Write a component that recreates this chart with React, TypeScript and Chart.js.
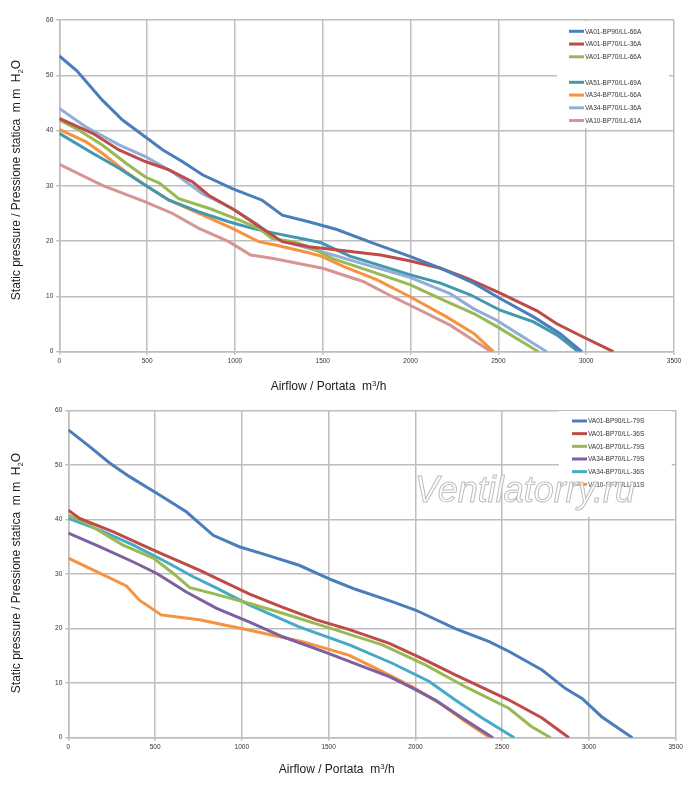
import { useEffect, useRef } from "react";
import { Chart, registerables } from "chart.js";
Chart.register(...registerables);

type P = [number, number];

// ---------- Top chart data (airflow m3/h, static pressure mm H2O) ----------
const topLabels = [
  "VA01-BP90/LL-66A",
  "VA01-BP70/LL-36A",
  "VA01-BP70/LL-66A",
  "VA51-BP70/LL-69A",
  "VA34-BP70/LL-66A",
  "VA34-BP70/LL-36A",
  "VA10-BP70/LL-61A",
];
const topColors = ["#4A7EBB", "#BE4B48", "#98B954", "#4198AF", "#F69240", "#92AED6", "#D69492"];

const topBP90_66A: P[] = [[0,53.5],[100,50.8],[245,45.5],[360,41.9],[500,38.6],[590,36.5],[700,34.4],[815,32.0],[985,29.5],[1155,27.4],[1270,24.7],[1420,23.5],[1580,22.1],[1790,19.6],[2000,17.2],[2170,15.1],[2360,12.4],[2500,9.8],[2700,6.3],[2850,3.3],[2975,0]];
const topBP70_36A: P[] = [[0,42.2],[190,39.5],[340,36.5],[490,34.4],[625,32.9],[760,30.7],[850,28.3],[1000,25.6],[1140,22.6],[1270,19.9],[1420,19.0],[1560,18.5],[1830,17.5],[2000,16.4],[2170,15.1],[2320,13.3],[2510,10.6],[2720,7.4],[2830,5.1],[2980,2.7],[3155,0]];
const topBP70_66A: P[] = [[0,41.9],[110,40.1],[245,37.4],[380,34.1],[490,31.6],[570,30.5],[680,27.7],[855,25.9],[1025,23.8],[1135,22.3],[1210,20.5],[1330,19.9],[1420,19.0],[1560,16.8],[1750,14.8],[2000,12.1],[2190,9.3],[2360,6.9],[2500,4.4],[2728,0]];
const topVA51_69A: P[] = [[0,39.5],[190,35.9],[340,33.2],[490,30.1],[625,27.4],[795,25.3],[965,23.5],[1100,22.3],[1230,21.4],[1420,20.2],[1490,19.7],[1655,17.3],[2000,13.9],[2170,12.4],[2340,10.3],[2510,7.5],[2700,5.4],[2835,3.0],[2955,0]];
const topVA34_66A: P[] = [[0,40.2],[150,38.0],[245,35.9],[380,32.5],[490,30.1],[625,27.4],[795,25.0],[985,22.3],[1135,19.9],[1230,19.3],[1420,17.9],[1490,17.3],[1620,15.4],[1810,13.0],[2000,9.9],[2205,6.3],[2360,3.3],[2472,0]];
const topVA34_36A: P[] = [[0,44.0],[150,40.7],[340,37.4],[490,35.3],[645,32.5],[815,28.6],[985,25.9],[1120,23.2],[1250,20.2],[1420,18.7],[1560,17.5],[1750,15.7],[2000,13.4],[2225,10.5],[2358,7.8],[2490,5.7],[2624,3.0],[2775,0]];
const topVA10_61A: P[] = [[0,33.9],[245,30.1],[490,27.1],[645,25.0],[795,22.3],[965,19.9],[1090,17.5],[1210,16.9],[1420,15.6],[1500,15.1],[1730,12.7],[1900,9.9],[2055,7.5],[2225,4.8],[2460,0]];
const topSeries: P[][] = [topBP90_66A, topBP70_36A, topBP70_66A, topVA51_69A, topVA34_66A, topVA34_36A, topVA10_61A];

// ---------- Bottom chart data ----------
const botLabels = [
  "VA01-BP90/LL-79S",
  "VA01-BP70/LL-36S",
  "VA01-BP70/LL-79S",
  "VA34-BP70/LL-79S",
  "VA34-BP70/LL-36S",
  "VA10-BP70/LL-61S",
];
const botColors = ["#4A7EBB", "#BE4B48", "#98B954", "#7D60A0", "#46AAC5", "#F69240"];

const botBP90_79S: P[] = [[0,56.4],[125,53.3],[240,50.3],[355,47.8],[510,44.8],[680,41.4],[835,37.1],[985,35.0],[1140,33.5],[1330,31.6],[1520,28.9],[1655,27.2],[1870,24.9],[2000,23.4],[2230,20.0],[2425,17.6],[2540,15.8],[2730,12.4],[2865,9.0],[2960,7.2],[3075,3.8],[3250,0]];
const botBP70_36S: P[] = [[0,41.7],[65,40.2],[260,37.7],[510,34.1],[755,30.7],[1045,26.3],[1236,23.9],[1430,21.6],[1620,19.8],[1850,17.3],[2040,14.5],[2230,11.5],[2540,6.9],[2730,3.6],[2885,0]];
const botBP70_79S: P[] = [[0,40.8],[105,39.3],[315,35.3],[490,32.9],[605,30.1],[700,27.5],[835,26.4],[1045,24.6],[1235,22.8],[1485,20.3],[1810,17.0],[2060,13.3],[2290,9.3],[2538,5.4],[2670,2.0],[2780,0]];
const botVA34_79S: P[] = [[0,37.5],[180,35.0],[375,32.2],[510,30.1],[680,26.7],[855,23.7],[1045,21.2],[1236,18.5],[1495,15.5],[1675,13.3],[1850,11.2],[1990,9.0],[2115,6.9],[2270,3.6],[2447,0]];
const botVA34_36S: P[] = [[0,40.2],[185,38.0],[375,35.3],[565,32.2],[720,29.5],[855,27.4],[1045,24.3],[1330,20.3],[1620,17.0],[1870,13.6],[2080,10.3],[2230,6.9],[2385,3.6],[2570,0]];
const botVA10_61S: P[] = [[0,32.9],[145,30.7],[335,27.8],[410,25.2],[535,22.5],[755,21.6],[1045,19.7],[1350,17.6],[1620,15.1],[1810,12.1],[1985,9.3],[2155,6.0],[2290,2.9],[2430,0]];
const botSeries: P[][] = [botBP90_79S, botBP70_36S, botBP70_79S, botVA34_79S, botVA34_36S, botVA10_61S];

// ---------- Axis ----------
const xMin = 0, xMax = 3500, xStep = 500;
const yMin = 0, yMax = 60, yStep = 10;
const yTitleParts: [string, string][] = [["Static pressure / Pressione statica  m m  H", "n"], ["2", "sub"], ["O", "n"]];
const xTitleParts: [string, string][] = [["Airflow / Portata  m", "n"], ["3", "sup"], ["/h", "n"]];
const watermarkText = "Ventilatorry.ru";

const FONT = '"Liberation Sans", Arial, sans-serif';

function drawRich(ctx: CanvasRenderingContext2D, parts: [string, string][], cx: number, cy: number, size: number) {
  const small = size * 0.65;
  let total = 0;
  for (const [t, k] of parts) {
    ctx.font = `${k === "n" ? size : small}px ${FONT}`;
    total += ctx.measureText(t).width;
  }
  let x = cx - total / 2;
  ctx.textAlign = "left";
  ctx.textBaseline = "middle";
  for (const [t, k] of parts) {
    ctx.font = `${k === "n" ? size : small}px ${FONT}`;
    const dy = k === "sub" ? size * 0.3 : k === "sup" ? -size * 0.3 : 0;
    ctx.fillText(t, x, cy + dy);
    x += ctx.measureText(t).width;
  }
}

const overlayPlugin = {
  id: "overlay",
  afterDraw(chart: any, _args: any, opts: any) {
    const ctx: CanvasRenderingContext2D = chart.ctx;
    ctx.save();
    const lg = opts.legend;
    ctx.fillStyle = "#ffffff";
    ctx.fillRect(lg.left, lg.top, lg.right - lg.left, lg.bottom - lg.top);
    chart.data.datasets.forEach((ds: any, i: number) => {
      const slot = i + (lg.gapAfter != null && i >= lg.gapAfter ? 1 : 0);
      const y = lg.firstRow + slot * lg.rowStep;
      ctx.strokeStyle = ds.borderColor;
      ctx.lineWidth = 3;
      ctx.beginPath();
      ctx.moveTo(lg.lineX, y);
      ctx.lineTo(lg.lineX + lg.lineLen, y);
      ctx.stroke();
      ctx.fillStyle = "#333333";
      ctx.textAlign = "left";
      ctx.textBaseline = "middle";
      ctx.font = `${lg.fontSize}px ${FONT}`;
      ctx.fillText(ds.label, lg.lineX + lg.lineLen + 1, y + 0.5);
    });

    ctx.fillStyle = "#1a1a1a";
    ctx.save();
    ctx.translate(opts.yTitle.x, opts.yTitle.y);
    ctx.rotate(-Math.PI / 2);
    drawRich(ctx, yTitleParts, 0, 0, opts.titleSize);
    ctx.restore();
    drawRich(ctx, xTitleParts, opts.xTitle.x, opts.xTitle.y, opts.titleSize);

    if (opts.watermark) {
      const w = opts.watermark;
      ctx.font = `italic ${w.size}px ${FONT}`;
      ctx.textAlign = "center";
      ctx.textBaseline = "alphabetic";
      ctx.fillStyle = "rgba(255,255,255,0.75)";
      ctx.fillText(watermarkText, w.x, w.y);
      ctx.strokeStyle = "#BDBDBD";
      ctx.lineWidth = 1;
      ctx.strokeText(watermarkText, w.x, w.y);
    }
    ctx.restore();
  },
};

function PressureChart(props: {
  labels: string[];
  colors: string[];
  series: P[][];
  height: number;
  area: { left: number; top: number; right: number; bottom: number };
  overlay: any;
}) {
  const ref = useRef<HTMLCanvasElement | null>(null);
  useEffect(() => {
    if (!ref.current) return;
    const { area, height } = props;
    const gridColor = "#BEBEBE";
    const chart = new Chart(ref.current, {
      type: "line",
      data: {
        datasets: props.series.map((s, i) => ({
          label: props.labels[i],
          data: s.map(([x, y]) => ({ x, y })),
          borderColor: props.colors[i],
          backgroundColor: props.colors[i],
          borderWidth: 3,
          pointRadius: 0,
          tension: 0,
          fill: false,
        })),
      },
      options: {
        responsive: false,
        animation: false,
        devicePixelRatio: 1,
        layout: { padding: { left: 0, top: area.top, right: 700 - area.right, bottom: 0 } },
        scales: {
          x: {
            type: "linear",
            min: xMin,
            max: xMax,
            ticks: {
              stepSize: xStep,
              color: "#333",
              font: { size: 6.5, family: FONT },
              padding: 3,
              maxRotation: 0,
              callback: (v: any) => String(v),
            },
            grid: { color: gridColor, lineWidth: 1.5, tickLength: 3 },
            border: { color: gridColor, width: 1.5 },
            afterFit: (axis: any) => {
              axis.height = height - area.bottom;
              axis.paddingLeft = 0;
              axis.paddingRight = 0;
            },
          },
          y: {
            type: "linear",
            min: yMin,
            max: yMax,
            ticks: {
              stepSize: yStep,
              color: "#333",
              font: { size: 6.5, family: FONT },
              padding: 3,
              callback: (v: any) => String(v),
            },
            grid: { color: gridColor, lineWidth: 1.5, tickLength: 3 },
            border: { color: gridColor, width: 1.5 },
            afterFit: (axis: any) => {
              axis.width = area.left;
              axis.paddingTop = 0;
              axis.paddingBottom = 0;
            },
          },
        },
        plugins: {
          legend: { display: false },
          tooltip: { enabled: false },
          overlay: props.overlay,
        } as any,
      },
      plugins: [overlayPlugin as any],
    });
    return () => chart.destroy();
  }, []);
  return <canvas ref={ref} width={700} height={props.height} style={{ display: "block", width: 700, height: props.height }} />;
}

export default function App() {
  return (
    <div style={{ position: "absolute", left: 0, top: 0, width: 700, height: 787, background: "#fff" }}>
      <PressureChart
        labels={topLabels}
        colors={topColors}
        series={topSeries}
        height={393}
        area={{ left: 59.3, top: 20, right: 674, bottom: 351.7 }}
        overlay={{
          legend: { left: 557, top: 21, right: 669, bottom: 128, lineX: 569, lineLen: 15, firstRow: 31.3, rowStep: 12.75, gapAfter: 3, fontSize: 6.5 },
          yTitle: { x: 17, y: 180 },
          xTitle: { x: 328.5, y: 387 },
          titleSize: 12,
        }}
      />
      <PressureChart
        labels={botLabels}
        colors={botColors}
        series={botSeries}
        height={394}
        area={{ left: 68.3, top: 17.3, right: 675.7, bottom: 344.7 }}
        overlay={{
          legend: { left: 559, top: 18, right: 671.7, bottom: 123.7, lineX: 572, lineLen: 15, firstRow: 28, rowStep: 12.66, gapAfter: null, fontSize: 6.5 },
          yTitle: { x: 17, y: 180 },
          xTitle: { x: 336.7, y: 377 },
          titleSize: 12,
          watermark: { x: 525, y: 108.7, size: 36 },
        }}
      />
    </div>
  );
}
